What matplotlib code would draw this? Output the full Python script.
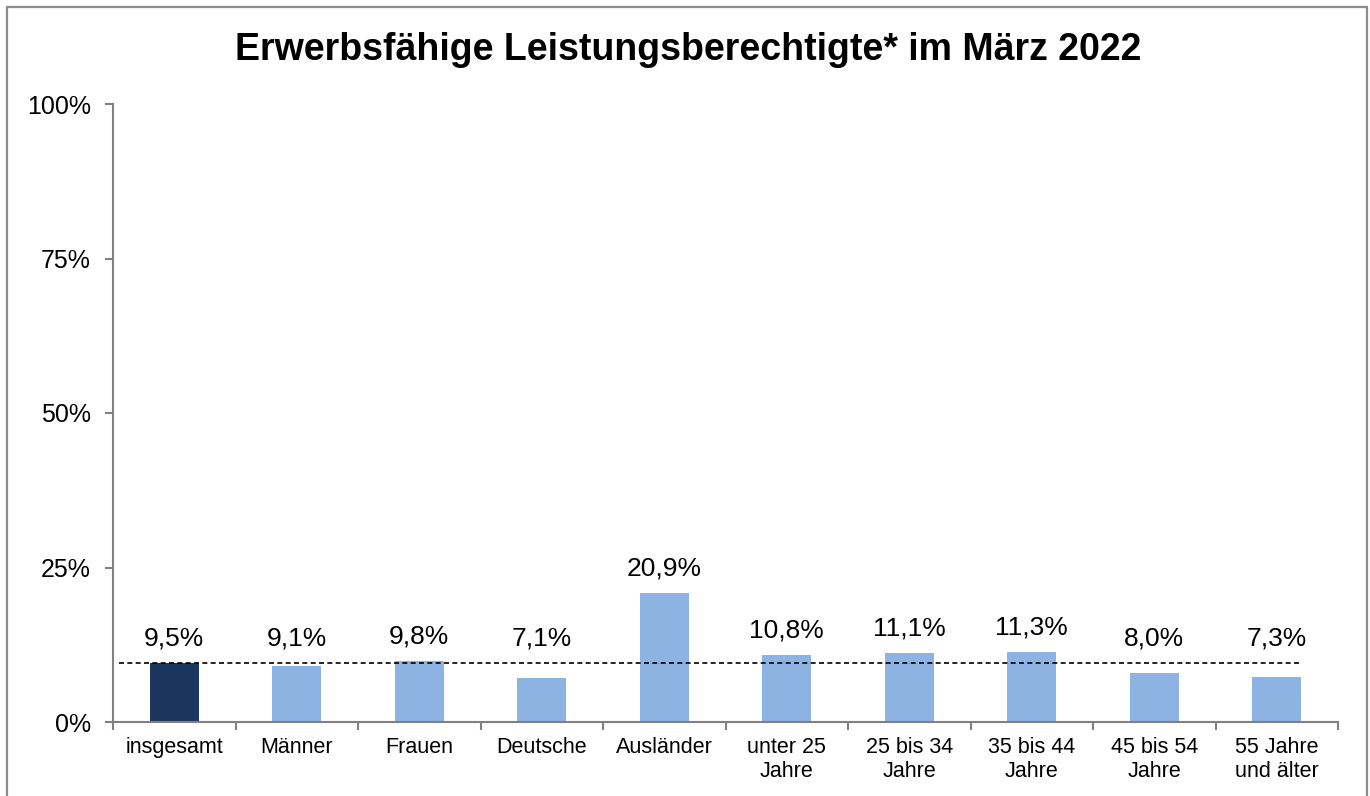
import matplotlib
matplotlib.use("Agg")
import matplotlib.pyplot as plt
from matplotlib.patches import Rectangle
from matplotlib.ticker import FixedLocator

plt.rcParams['font.family'] = ['Liberation Sans', 'DejaVu Sans']

categories = ['insgesamt', 'Männer', 'Frauen', 'Deutsche', 'Ausländer',
              'unter 25\nJahre', '25 bis 34\nJahre', '35 bis 44\nJahre',
              '45 bis 54\nJahre', '55 Jahre\nund älter']
values = [9.5, 9.1, 9.8, 7.1, 20.9, 10.8, 11.1, 11.3, 8.0, 7.3]
labels = ['9,5%', '9,1%', '9,8%', '7,1%', '20,9%', '10,8%', '11,1%', '11,3%', '8,0%', '7,3%']
average = 9.5

dark = '#1B365D'
light = '#8DB3E2'
axis_grey = '#808080'

fig = plt.figure(figsize=(13.7, 7.96), dpi=100)
# grey frame round the chart, open at the bottom
fig.patches.append(Rectangle((7 / 1370, -0.05), (1367 - 7) / 1370, 1 - 7 / 796 + 0.05,
                             transform=fig.transFigure, fill=False,
                             edgecolor='#8C8C8C', linewidth=1.6))

ax = fig.add_axes([113 / 1370, 1 - 722 / 796, (1338 - 113) / 1370, (722 - 104) / 796])

x = list(range(len(categories)))
colors = [dark] + [light] * (len(categories) - 1)
ax.bar(x, values, width=0.4, color=colors, zorder=2)

# labels of bars below the average line sit just above the line
for xi, v, lab in zip(x, values, labels):
    ax.annotate(lab, (xi, max(v, average)), xytext=(0, 9), textcoords='offset points',
                ha='center', va='bottom', fontsize=19)

ax.hlines(average, -0.45, 9.2, colors='black', linestyles=(0, (3, 2)),
          linewidth=1.2, zorder=3)

ax.set_xlim(-0.5, 9.5)
ax.set_ylim(0, 100)
ax.set_yticks([0, 25, 50, 75, 100])
ax.set_yticklabels(['0%', '25%', '50%', '75%', '100%'], fontsize=18)

ax.set_xticks(x)
ax.set_xticklabels(categories, fontsize=15.5, linespacing=1.2)
ax.xaxis.set_minor_locator(FixedLocator([i - 0.5 for i in range(len(categories) + 1)]))
ax.tick_params(axis='x', which='major', length=0, pad=11)
ax.tick_params(axis='x', which='minor', length=6, color=axis_grey, width=1.5)
ax.tick_params(axis='y', length=6, color=axis_grey, width=1.5, pad=10)

for s in ['top', 'right']:
    ax.spines[s].set_visible(False)
for s in ['left', 'bottom']:
    ax.spines[s].set_color(axis_grey)
    ax.spines[s].set_linewidth(1.5)

fig.text(688 / 1370, 1 - 50 / 796, 'Erwerbsfähige Leistungsberechtigte* im März 2022',
         ha='center', va='center', fontsize=27, fontweight='bold')

fig.savefig('out.png', dpi=100)
